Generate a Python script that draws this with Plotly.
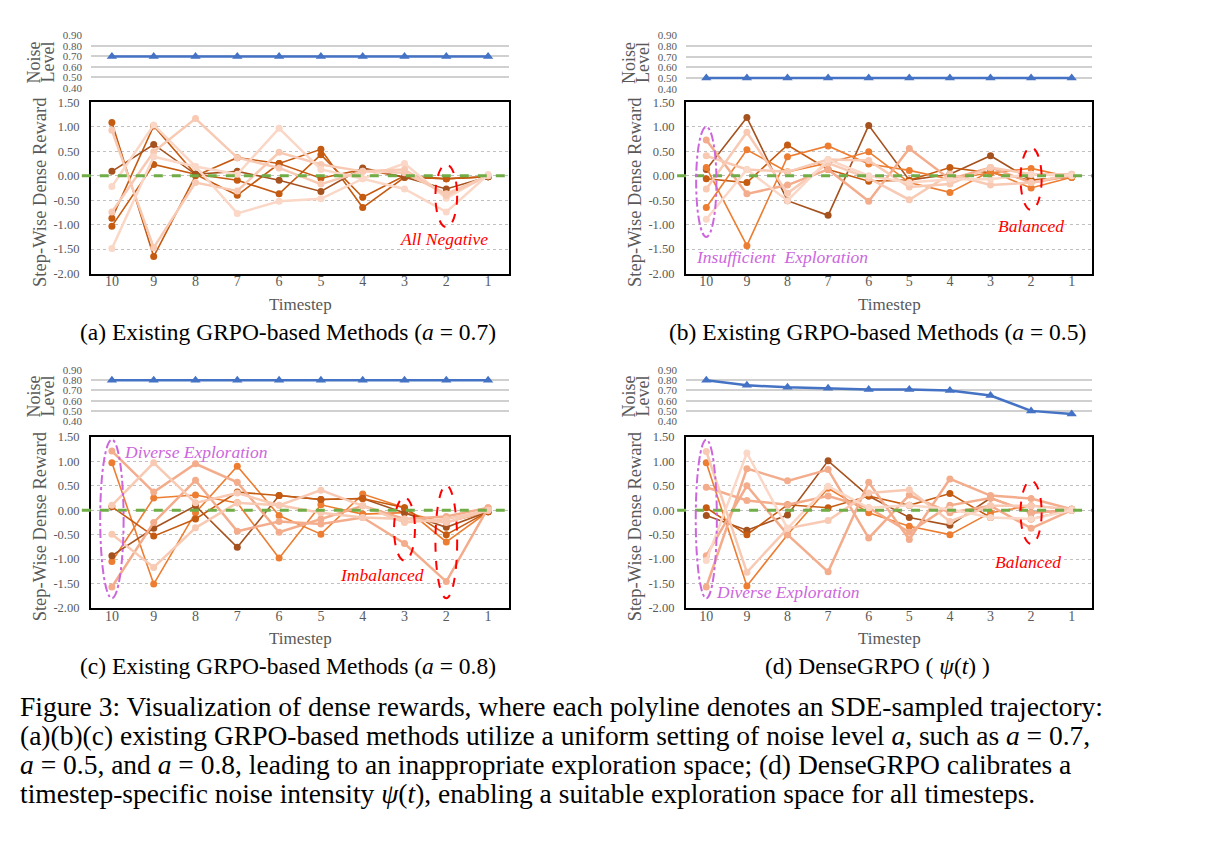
import plotly.graph_objects as go

W, H = 1219, 856
SERIF = "Liberation Serif"

timesteps = [10, 9, 8, 7, 6, 5, 4, 3, 2, 1]
noise_ticks = [0.40, 0.50, 0.60, 0.70, 0.80, 0.90]
noise_ticktext = ["0.40", "0.50", "0.60", "0.70", "0.80", "0.90"]
reward_ticks = [-2.0, -1.5, -1.0, -0.5, 0.0, 0.5, 1.0, 1.5]
reward_ticktext = ["-2.00", "-1.50", "-1.00", "-0.50", "0.00", "0.50", "1.00", "1.50"]

noise_a = [0.70] * 10
noise_b = [0.50] * 10
noise_c = [0.80] * 10
noise_d = [0.80, 0.75, 0.73, 0.72, 0.71, 0.71, 0.70, 0.65, 0.50, 0.47]

BROWN = "#a5521f"
DKOR = "#c55a11"
ORANGE = "#ed7d31"
SALMON = "#f4ad8c"
LIGHT = "#f8c9b3"
PALE = "#fad7c6"

rewards_a = [
    (DKOR, [1.09, -1.65, 0.00, 0.37, 0.25, 0.54, -0.65, -0.03, -0.06, -0.02]),
    (DKOR, [-0.87, 1.02, 0.03, -0.09, -0.37, 0.43, -0.44, 0.00, -0.06, -0.02]),
    (DKOR, [-1.03, 0.23, 0.03, -0.40, 0.25, -0.05, 0.13, -0.03, -0.06, -0.02]),
    (BROWN, [0.09, 0.64, 0.03, 0.09, -0.09, -0.32, 0.16, -0.03, -0.27, -0.02]),
    (LIGHT, [0.93, -1.47, -0.14, -0.31, 0.48, 0.23, 0.09, 0.06, -0.37, 0.00]),
    (PALE, [-0.22, 1.04, 0.19, 0.03, 0.97, 0.13, -0.06, 0.25, -0.46, 0.02]),
    (LIGHT, [-0.74, 0.49, 1.17, 0.37, 0.16, -0.17, 0.09, 0.13, -0.40, 0.00]),
    (PALE, [-1.49, 0.39, 0.19, -0.77, -0.52, -0.47, -0.06, -0.27, -0.74, 0.02]),
]
rewards_b = [
    (BROWN, [0.13, 1.19, -0.51, -0.81, 1.03, -0.09, 0.03, 0.41, -0.09, -0.03]),
    (DKOR, [-0.06, -0.14, 0.63, 0.13, -0.11, -0.09, 0.17, 0.06, -0.09, -0.03]),
    (ORANGE, [0.17, -1.43, 0.39, 0.61, 0.24, 0.11, -0.07, 0.06, 0.15, -0.03]),
    (ORANGE, [-0.65, 0.53, 0.08, 0.26, 0.49, -0.14, -0.34, 0.09, -0.25, -0.03]),
    (SALMON, [0.73, -0.37, -0.19, 0.13, -0.52, 0.56, -0.07, 0.17, -0.14, 0.00]),
    (LIGHT, [0.41, 0.13, 0.08, 0.33, 0.31, -0.23, -0.17, 0.17, 0.03, 0.03]),
    (LIGHT, [-0.27, 0.89, -0.36, 0.26, -0.05, -0.49, 0.03, -0.19, -0.14, 0.03]),
    (PALE, [-0.89, 0.13, -0.51, 0.33, 0.00, -0.14, -0.07, -0.07, 0.03, 0.00]),
]
rewards_c = [
    (ORANGE, [0.97, -1.51, -0.05, 0.90, -0.11, -0.49, 0.33, 0.05, -0.65, -0.03]),
    (ORANGE, [-1.05, 0.25, 0.31, 0.15, -0.98, 0.11, -0.08, -0.05, -0.25, -0.03]),
    (BROWN, [-0.93, -0.37, 0.09, -0.76, 0.30, 0.22, 0.24, -0.05, -0.35, -0.03]),
    (DKOR, [0.07, -0.53, -0.18, 0.37, 0.30, 0.22, 0.24, 0.05, -0.50, -0.03]),
    (SALMON, [-1.57, -0.25, 0.61, -0.43, -0.23, -0.28, -0.15, -0.68, -1.46, 0.05]),
    (SALMON, [1.21, 0.37, 0.95, 0.57, -0.45, -0.18, 0.09, -0.18, -0.13, 0.05]),
    (LIGHT, [0.10, 0.97, 0.15, 0.35, 0.10, 0.41, 0.09, -0.25, -0.18, 0.00]),
    (LIGHT, [-0.49, -1.17, -0.36, 0.15, 0.10, -0.05, -0.15, -0.18, -0.25, 0.00]),
]
rewards_d = [
    (ORANGE, [0.97, -1.55, -0.50, 0.45, -0.05, -0.33, -0.50, -0.05, 0.09, 0.02]),
    (BROWN, [-0.11, -0.41, -0.10, 1.01, 0.29, -0.15, -0.31, 0.25, -0.05, 0.00]),
    (DKOR, [0.05, -0.50, 0.11, 0.05, 0.29, 0.10, 0.34, -0.15, -0.18, 0.02]),
    (SALMON, [-0.93, 0.50, -0.50, -1.26, 0.57, -0.60, 0.64, 0.30, 0.24, 0.02]),
    (SALMON, [0.47, 0.20, 0.11, 0.29, 0.05, -0.45, 0.10, 0.25, -0.05, 0.00]),
    (SALMON, [-1.57, 0.85, 0.60, 0.83, -0.57, 0.31, -0.05, 0.09, -0.37, 0.00]),
    (LIGHT, [1.20, -1.27, -0.37, -0.21, 0.35, 0.42, -0.23, 0.09, 0.09, 0.02]),
    (PALE, [-1.03, 1.17, -0.37, 0.49, 0.05, 0.10, 0.02, -0.15, -0.18, 0.00]),
]

subcaptions = [
    "(a) Existing GRPO-based Methods (<i>a</i> = 0.7)",
    "(b) Existing GRPO-based Methods (<i>a</i> = 0.5)",
    "(c) Existing GRPO-based Methods (<i>a</i> = 0.8)",
    "(d) DenseGRPO ( <i>ψ</i>(<i>t</i>) )",
]
caption_lines = [
    "Figure 3: Visualization of dense rewards, where each polyline denotes an SDE-sampled trajectory:",
    "(a)(b)(c) existing GRPO-based methods utilize a uniform setting of noise level <i>a</i>, such as <i>a</i> = 0.7,",
    "<i>a</i> = 0.5, and <i>a</i> = 0.8, leading to an inappropriate exploration space; (d) DenseGRPO calibrates a",
    "timestep-specific noise intensity <i>ψ</i>(<i>t</i>), enabling a suitable exploration space for all timesteps.",
]


def fx(p):
    return p / W


def fy(p):
    return 1 - p / H


# panel geometry in pixels: (left, right, noise_top, noise_bottom, rew_top, rew_bottom)
panels = [
    (91, 509, 29, 82, 97, 271),
    (686, 1092, 29, 83, 97, 271),
    (91, 509, 369, 421, 437, 611),
    (686, 1092, 369, 421, 437, 611),
]
noise_series = [noise_a, noise_b, noise_c, noise_d]
reward_sets = [rewards_a, rewards_b, rewards_c, rewards_d]

fig = go.Figure()
layout = dict(
    width=W, height=H, margin=dict(l=0, r=0, t=0, b=0),
    paper_bgcolor="white", plot_bgcolor="white", showlegend=False,
)
annotations = []
shapes = []
GRAYTXT = "#595959"

for i, (l, r, nt, nb, rt, rb) in enumerate(panels):
    na = 2 * i + 1
    ra = 2 * i + 2
    xn, yn = f"x{na}", f"y{na}"
    xr, yr = f"x{ra}", f"y{ra}"
    layout[f"xaxis{na}"] = dict(domain=[fx(l), fx(r)], range=[10.5, 0.5], showticklabels=False,
                                showgrid=False, zeroline=False, showline=False, ticks="",
                                anchor=yn, fixedrange=True)
    layout[f"yaxis{na}"] = dict(domain=[fy(nb), fy(nt)], range=[0.40, 0.90], tickvals=noise_ticks,
                                ticktext=noise_ticktext, showgrid=True, gridcolor="#d0d0d0",
                                gridwidth=1.5, zeroline=False, showline=False, ticks="",
                                ticklabelstandoff=8,
                                tickfont=dict(family=SERIF, size=11, color=GRAYTXT),
                                anchor=xn, fixedrange=True)
    layout[f"xaxis{ra}"] = dict(domain=[fx(l), fx(r)], range=[10.5, 0.5], tickvals=timesteps,
                                ticktext=[str(t) for t in timesteps], showgrid=False, zeroline=False,
                                showline=True, mirror=True, linecolor="black", linewidth=2, ticks="",
                                ticklabelstandoff=-6,
                                tickfont=dict(family=SERIF, size=14, color=GRAYTXT),
                                anchor=yr, fixedrange=True)
    layout[f"yaxis{ra}"] = dict(domain=[fy(rb), fy(rt)], range=[-2.0, 1.5], tickvals=reward_ticks,
                                ticktext=reward_ticktext, showgrid=True, gridcolor="#c0c0c0",
                                griddash="dot", gridwidth=1, zeroline=False,
                                showline=True, mirror=True, linecolor="black", linewidth=2, ticks="",
                                ticklabelstandoff=7,
                                tickfont=dict(family=SERIF, size=12.5, color=GRAYTXT),
                                anchor=xr, fixedrange=True)

    for color, vals in reward_sets[i]:
        lw = 2.5 if color in (SALMON, LIGHT, PALE) else 1.6
        fig.add_trace(go.Scatter(x=timesteps, y=vals, mode="lines+markers", xaxis=xr, yaxis=yr,
                                 line=dict(color=color, width=lw),
                                 marker=dict(color=color, size=7, symbol="circle")))
    fig.add_trace(go.Scatter(x=timesteps, y=noise_series[i], mode="lines+markers", xaxis=xn, yaxis=yn,
                             line=dict(color="#4472c4", width=2.5),
                             marker=dict(color="#4472c4", size=9, symbol="triangle-up"),
                             cliponaxis=False))

    shapes.append(dict(type="line", xref=f"{xr} domain", yref=yr, x0=-0.022, x1=1.0, y0=0, y1=0,
                       line=dict(color="#70ad47", width=3, dash="dash"), layer="above"))

    cxoff = 0 if i % 2 == 0 else 595
    ncy = (nt + nb) / 2 + 1
    annotations.append(dict(text="Noise", x=fx(34 + cxoff), y=fy(ncy), xref="paper", yref="paper",
                            showarrow=False, textangle=-90, font=dict(family=SERIF, size=18, color=GRAYTXT),
                            xanchor="center", yanchor="middle"))
    annotations.append(dict(text="Level", x=fx(48 + cxoff), y=fy(ncy), xref="paper", yref="paper",
                            showarrow=False, textangle=-90, font=dict(family=SERIF, size=18, color=GRAYTXT),
                            xanchor="center", yanchor="middle"))
    annotations.append(dict(text="Step-Wise Dense Reward", x=fx(40 + cxoff), y=fy(rt + 91),
                            xref="paper", yref="paper", showarrow=False, textangle=-90,
                            font=dict(family=SERIF, size=18.5, color=GRAYTXT), xanchor="center", yanchor="middle"))
    annotations.append(dict(text="Timestep", x=fx((l + r) / 2), y=fy(rb + 31), xref="paper", yref="paper",
                            showarrow=False, font=dict(family=SERIF, size=17, color=GRAYTXT),
                            xanchor="center", yanchor="middle"))
    annotations.append(dict(text=subcaptions[i], x=fx((l + r) / 2 - 12), y=fy(rb + 59), xref="paper", yref="paper",
                            showarrow=False, font=dict(family=SERIF, size=23.5, color="black"),
                            xanchor="center", yanchor="middle"))


def ellipse(ax, x, y0, y1, color, dash, hw=0.26):
    shapes.append(dict(type="circle", xref=f"x{ax}", yref=f"y{ax}", x0=x - hw, x1=x + hw, y0=y0, y1=y1,
                       line=dict(color=color, width=2, dash=dash), layer="above"))


RED = "#ff0000"
PURPLE = "#cc66dd"
ellipse(2, 2, -1.05, 0.23, RED, "dash")
ellipse(4, 10, -1.25, 1.00, PURPLE, "dashdot", 0.25)
ellipse(4, 2, -0.70, 0.58, RED, "dash")
ellipse(6, 10, -1.80, 1.44, PURPLE, "dashdot", 0.28)
ellipse(6, 3, -1.03, 0.26, RED, "dash", 0.25)
ellipse(6, 2, -1.80, 0.51, RED, "dash")
ellipse(8, 10, -1.80, 1.44, PURPLE, "dashdot", 0.26)
ellipse(8, 2, -0.69, 0.60, RED, "dash")


def label(ax, text, x, y, color, anchor="center"):
    annotations.append(dict(text=f"<i>{text}</i>", x=x, y=y, xref=f"x{ax}", yref=f"y{ax}", showarrow=False,
                            xanchor=anchor, yanchor="middle", font=dict(family=SERIF, size=17.5, color=color)))


label(2, "All Negative", 2.05, -1.30, RED)
label(4, "Insufficient  Exploration", 10.3, -1.66, PURPLE, "left")
label(4, "Balanced", 2.0, -1.02, RED)
label(6, "Diverse Exploration", 9.76, 1.20, PURPLE, "left")
label(6, "Imbalanced", 3.54, -1.32, RED)
label(8, "Diverse Exploration", 9.8, -1.68, PURPLE, "left")
label(8, "Balanced", 2.07, -1.05, RED)

cap_y = [711, 740.5, 770, 799.5]
for yy, line in zip(cap_y, caption_lines):
    annotations.append(dict(text=line, x=fx(18), y=fy(yy), xref="paper", yref="paper", showarrow=False,
                            xanchor="left", yanchor="middle", font=dict(family=SERIF, size=27.5, color="black")))

layout["annotations"] = annotations
layout["shapes"] = shapes
fig.update_layout(**layout)
fig.write_html("out.html")
